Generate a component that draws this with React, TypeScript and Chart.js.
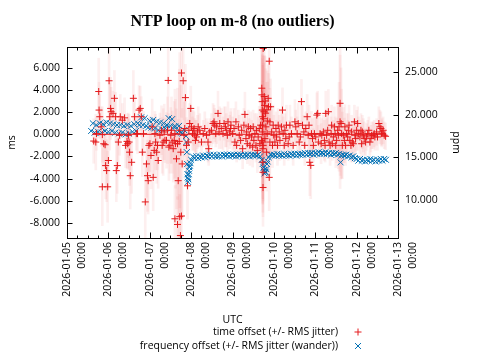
import React, { useEffect, useRef } from 'react';
import { Chart, registerables } from 'chart.js';

Chart.register(...registerables);

// ---------- text ----------
const chartTitle = 'NTP loop on m-8 (no outliers)';
const xAxisTitle = 'UTC';
const leftAxisTitle = 'ms';
const rightAxisTitle = 'ppm';
const dayLabels = ['2026-01-05', '2026-01-06', '2026-01-07', '2026-01-08', '2026-01-09', '2026-01-10', '2026-01-11', '2026-01-12', '2026-01-13'];
const midnightLabel = '00:00';
const timeOffsetLabel = 'time offset (+/- RMS jitter)';
const freqOffsetLabel = 'frequency offset (+/- RMS jitter (wander))';

// ---------- axes (hours since 2026-01-05 00:00 UTC) ----------
const hourRange = [0, 192];
const msRange = [-9.34, 7.86];
const ppmRange = [5.48, 28.0];

// ---------- time offset: [hour, offset ms, RMS jitter ms] ----------
const timeOffsetDay0: number[][] = [
  [15.5, -0.61, 2.0], [16.7, -0.70, 2.5], [17.1, 0.06, 1.5], [18.4, 3.85, 3.0], [18.6, 2.18, 2.5], [19.0, 1.58, 2.0],
  [19.8, 0.67, 1.8], [20.5, -0.03, 2.5], [20.5, -4.73, 3.5], [21.3, -0.85, 2.0], [22.1, -0.94, 2.2], [22.4, -2.82, 3.0],
  [23.0, -3.27, 2.8], [23.6, -4.73, 3.2],
];
const timeOffsetDay1: number[][] = [
  [24.0, -2.36, 2.5], [24.4, 4.82, 3.5], [24.8, 1.58, 3.0], [25.3, 2.33, 2.8], [25.6, 2.03, 2.2], [26.7, 1.88, 2.0],
  [27.5, 3.24, 2.5], [28.2, 1.58, 2.2], [28.6, -3.27, 2.8], [29.2, -2.82, 2.5], [29.8, -0.70, 2.0], [30.5, -0.09, 1.8],
  [30.9, 1.58, 2.0], [32.1, 1.27, 1.5], [33.4, 1.48, 1.8], [34.0, -1.0, 2.0], [34.8, -0.64, 2.5], [35.2, -0.85, 2.2],
  [35.6, -0.09, 2.0], [36.0, -0.70, 2.5], [36.3, -1.61, 3.0], [36.7, -3.73, 3.0], [37.5, -2.52, 2.8], [38.5, 3.24, 2.5],
  [39.2, 1.58, 2.0], [40.2, 0.06, 1.5], [40.9, 0.06, 1.8], [41.8, 2.18, 2.2], [42.5, 2.33, 2.0], [43.1, 1.58, 1.8],
  [43.7, -1.61, 2.2], [44.4, 0.06, 2.0], [45.4, -6.09, 3.5], [46.1, -2.67, 3.0], [46.7, -3.73, 3.2], [47.1, -4.18, 3.0],
  [47.5, -1.0, 2.5],
];
const timeOffsetDay2: number[][] = [
  [48.1, -0.85, 2.5], [48.7, -1.91, 3.0], [49.4, 0.67, 2.5], [50.0, -3.88, 3.0], [50.6, -1.45, 2.5], [51.0, 0.06, 2.0],
  [51.4, -0.70, 2.5], [52.0, -1.61, 2.8], [52.5, -1.0, 2.2], [52.9, -2.36, 2.5], [53.9, -0.09, 2.0], [54.8, 0.36, 2.2],
  [55.2, -1.0, 2.5], [55.8, -0.70, 3.0], [56.4, 0.21, 2.5], [56.8, -0.55, 2.0], [57.7, -0.55, 2.5], [58.3, 0.36, 3.0],
  [58.7, 4.85, 3.5], [59.1, -1.15, 3.0], [59.7, -1.0, 2.5], [60.2, -0.09, 2.5], [60.6, 0.36, 3.0], [61.0, -0.70, 2.8],
  [61.6, -1.30, 3.0], [62.2, -0.55, 3.5], [62.6, 0.06, 4.0], [62.6, -7.61, 3.0], [62.9, -0.85, 4.0], [63.5, -2.21, 4.5],
  [64.1, -0.85, 5.0], [64.1, -8.12, 2.5], [64.5, -4.18, 5.5], [65.1, -0.64, 6.5], [65.4, -7.42, 2.0], [65.4, 0.36, 7.0],
  [65.8, -9.12, 2.0], [66.0, -1.61, 6.0], [66.4, 5.52, 4.0], [66.4, -7.36, 3.0], [66.8, -2.67, 5.0], [67.4, 4.82, 3.5],
  [67.9, -0.09, 3.0], [68.3, 0.52, 2.5], [68.7, 3.30, 3.0], [69.3, -1.0, 2.5], [69.9, -4.64, 3.0], [70.3, -0.70, 2.0],
  [70.7, 0.36, 2.0], [71.2, 0.97, 1.8], [71.8, 2.33, 2.0],
];
const timeOffsetDay3: number[][] = [
  [72.2, 0.67, 1.5], [72.8, 0.06, 1.5], [73.2, 0.36, 1.8], [73.7, 0.52, 1.5], [74.1, -0.09, 1.5], [74.5, -0.55, 1.8],
  [75.1, -0.24, 1.5], [75.7, 0.21, 1.5], [76.1, 0.67, 1.8], [77.0, 0.36, 1.5], [78.0, -0.70, 1.5], [79.0, 0.06, 1.2],
  [79.9, 0.52, 1.5], [80.9, -0.09, 1.5], [81.8, -0.70, 1.8], [82.2, -1.30, 1.5], [82.8, 0.21, 1.2], [83.8, 0.36, 1.5],
  [84.7, 0.97, 1.8], [85.3, 1.12, 1.5], [85.7, 0.82, 1.5], [86.3, 0.06, 1.2], [86.8, 0.67, 1.5], [87.6, 1.88, 2.0],
  [88.2, 0.21, 1.5], [88.6, 0.97, 1.5], [89.5, 0.52, 1.8], [90.5, 0.06, 1.5], [91.1, 0.97, 1.5], [91.9, 0.67, 1.8],
  [92.4, 0.36, 1.5], [93.0, -0.09, 1.5], [93.4, 1.12, 1.8], [94.4, 0.21, 1.5], [94.9, 0.52, 1.5], [95.1, 0.82, 1.5],
];
const timeOffsetDay4: number[][] = [
  [96.1, 0.06, 1.5], [96.9, 0.52, 1.8], [97.4, -0.70, 1.5], [98.0, 1.12, 1.8], [98.4, -1.0, 1.5], [99.4, 0.67, 1.5],
  [99.9, -0.09, 1.8], [100.7, -0.55, 1.5], [101.3, 0.36, 1.5], [101.9, -1.30, 1.8], [102.6, 0.82, 1.5], [103.2, 1.79, 2.0],
  [103.8, -0.39, 1.5], [104.2, 0.21, 1.5], [104.6, -0.85, 1.8], [105.2, 0.67, 1.5], [105.7, -0.09, 1.5], [106.1, -1.0, 1.8],
  [106.5, 0.52, 1.5], [107.1, -0.24, 1.5], [107.7, -1.15, 1.8], [108.0, 0.67, 1.5], [108.4, -0.55, 1.5], [109.0, 0.06, 1.8],
  [109.6, -1.0, 1.5], [110.0, 0.36, 1.5], [110.4, -1.45, 2.0], [110.9, -0.24, 1.8], [111.5, 0.52, 2.0], [111.9, -0.85, 2.2],
  [112.3, 0.82, 2.5], [112.9, -0.55, 3.0], [113.0, 4.15, 4.0], [113.1, 3.55, 4.5], [113.2, 2.94, 5.0], [113.3, 2.18, 5.0],
  [113.4, 1.58, 5.5], [113.4, 0.82, 6.0], [113.5, 0.21, 6.0], [113.5, -0.70, 5.5], [113.6, -1.30, 5.0], [113.6, -2.52, 4.5],
  [113.7, -3.42, 4.0], [113.7, -4.79, 3.5], [113.8, 7.73, 3.0], [113.8, -1.0, 5.0], [114.0, 1.4, 5.0], [114.2, 2.03, 5.0],
  [114.4, 3.4, 4.5], [114.6, 2.6, 4.5], [114.8, -0.39, 4.5], [115.0, 3.0, 4.0], [115.2, 1.9, 4.0], [115.4, 0.67, 4.0],
  [115.8, -1.61, 3.5], [116.0, 2.2, 3.5], [116.1, 0.06, 3.5], [116.4, 1.2, 3.5], [116.7, 3.24, 3.0], [116.9, 2.48, 3.0],
  [117.3, 6.58, 2.5], [117.3, -3.88, 3.0], [117.7, 1.12, 3.0], [117.7, -0.70, 3.0], [118.1, 2.48, 2.5], [118.7, 0.21, 2.0],
  [119.2, -1.0, 2.0], [119.6, 0.82, 1.8],
];
const timeOffsetDay5: number[][] = [
  [120.0, -0.09, 1.8], [120.6, -0.70, 1.5], [121.2, 0.52, 1.5], [121.5, -0.24, 1.5], [122.1, -1.0, 1.8], [122.5, 0.82, 1.5],
  [123.1, 0.21, 1.5], [123.5, -0.55, 1.8], [124.4, 0.67, 1.5], [125.0, 2.18, 2.0], [125.4, 0.06, 1.5], [126.0, -1.0, 1.8],
  [126.4, 0.36, 1.5], [126.9, -0.39, 1.5], [127.3, 0.82, 1.8], [128.3, -0.85, 1.5], [128.9, -0.24, 1.5], [129.3, 0.82, 1.8],
  [130.2, 0.06, 1.5], [131.2, -1.0, 1.8], [132.2, 1.12, 2.0], [132.7, 0.67, 1.5], [133.5, 0.06, 1.5], [134.1, 0.97, 1.8],
  [134.7, -0.70, 1.5], [135.4, -0.24, 1.5], [136.0, 2.94, 2.0], [136.6, 0.82, 1.8], [137.4, 0.21, 1.5], [137.9, -1.0, 1.8],
  [138.5, 0.52, 1.5], [139.3, 1.58, 2.0], [139.9, -0.09, 1.5], [140.4, 0.82, 1.8], [140.8, -2.52, 3.0], [141.4, -2.8, 3.0],
  [141.8, 0.06, 2.0], [142.4, -0.39, 1.8], [142.9, -1.0, 1.5], [143.5, 0.06, 1.5],
];
const timeOffsetDay6: number[][] = [
  [144.3, -0.24, 1.8], [144.9, 1.73, 2.0], [145.4, 1.88, 2.0], [145.8, -0.70, 1.5], [146.8, 0.06, 1.5], [147.4, -0.85, 1.8],
  [147.8, -0.09, 1.5], [148.7, 0.21, 1.5], [149.3, -0.55, 1.8], [149.7, -1.0, 1.5], [150.1, 1.88, 2.0], [150.6, -0.09, 1.5],
  [151.2, 0.36, 1.5], [151.6, 2.03, 2.0], [152.0, -0.70, 1.5], [152.6, -1.0, 1.8], [153.2, 0.06, 1.5], [153.5, 0.82, 1.8],
  [153.9, -0.85, 1.5], [154.5, -0.24, 1.5], [155.1, 0.67, 1.8], [155.5, 0.06, 1.5], [155.9, -1.0, 2.0], [156.4, -0.55, 2.0],
  [157.0, 0.36, 2.5], [157.4, -0.09, 3.0], [157.8, 0.67, 4.0], [158.4, 2.79, 6.5], [158.4, 1.12, 6.0], [159.0, 0.97, 5.0],
  [159.3, 0.06, 4.0], [159.7, -1.0, 3.0], [160.3, -0.09, 2.5], [160.9, -0.55, 2.0], [161.2, 0.67, 2.0], [161.6, -1.0, 1.8],
  [162.2, 0.06, 1.8], [162.8, -0.24, 1.5], [163.2, 0.36, 1.5], [163.6, 0.82, 1.8], [164.1, -0.55, 1.5], [164.7, -1.0, 1.5],
  [165.1, 0.21, 1.5], [165.5, -0.70, 1.8], [166.1, -0.85, 1.5], [166.7, 1.12, 1.5], [167.0, -0.09, 1.5], [167.4, -0.39, 1.5],
];
const timeOffsetDay7: number[][] = [
  [168.0, 0.36, 1.8], [168.6, 0.97, 1.5], [169.0, 0.06, 1.5], [169.9, -0.24, 1.5], [170.5, 0.36, 1.5], [170.9, -0.85, 1.5],
  [171.3, 0.21, 1.5], [171.9, -0.09, 1.5], [172.4, -0.39, 1.5], [173.2, -0.70, 1.2], [173.8, -0.24, 1.2], [174.4, 0.06, 1.2],
  [175.1, 0.36, 1.2], [175.7, -0.70, 1.2], [176.3, -0.39, 1.2], [176.7, -0.09, 1.2], [177.6, -0.09, 1.2], [178.2, 0.06, 1.2],
  [178.6, -0.24, 1.2], [179.6, 0.21, 1.2], [180.1, -0.24, 1.2], [180.9, 0.97, 1.5], [181.5, 0.67, 1.5], [182.1, 0.52, 1.5],
  [182.5, 0.06, 1.2], [182.8, 0.21, 1.2], [183.4, 0.36, 1.2], [184.0, -0.09, 1.2], [184.8, -0.18, 1.2],
];
// offset reference line (ms) over the data span
const offsetBaseline: number[][] = [[14.7, 0], [185.2, 0]];

// ---------- frequency offset (ppm), hourly samples; first hour of each block ----------
const freqDay0Start = 14;
const freqDay0 = [18.1, 19.0, 17.9, 18.8, 18.0, 19.0, 17.9, 18.9, 18.1, 19.1];
const freqDay1Start = 24;
const freqDay1 = [18.0, 19.0, 18.1, 18.9, 17.9, 18.8, 17.8, 18.8, 17.9, 18.7, 17.7, 18.8, 17.8, 18.7, 18.0, 18.9, 18.1, 19.0, 18.8, 19.7, 18.8, 19.6, 18.7, 18.5];
const freqDay2Start = 48;
const freqDay2 = [19.3, 18.5, 19.4, 18.4, 19.2, 18.2, 19.1, 18.3, 19.0, 18.4, 18.8, 19.6, 18.7, 19.5, 18.6, 18.6, 17.9, 18.7, 17.9, 17.8, 18.2, 17.5, 12.6, 13.8];
const freqDay3Start = 72;
const freqDay3 = [14.7, 15.1, 14.9, 15.1, 14.9, 15.1, 15.0, 15.2, 15.0, 15.2, 15.1, 15.3, 15.1, 15.3, 15.1, 15.2, 15.1, 15.3, 15.1, 15.3, 15.2, 15.3, 15.1, 15.3];
const freqDay4Start = 96;
const freqDay4 = [15.2, 15.3, 15.1, 15.3, 15.2, 15.3, 15.1, 15.3, 15.2, 15.3, 15.1, 15.3, 15.2, 15.3, 15.2, 15.3, 15.1, 14.7, 13.8, 13.3, 14.2, 15.0, 15.3, 15.2];
const freqDay5Start = 120;
const freqDay5 = [15.3, 15.2, 15.4, 15.2, 15.3, 15.2, 15.4, 15.2, 15.3, 15.2, 15.4, 15.3, 15.4, 15.2, 15.4, 15.3, 15.4, 15.3, 15.5, 15.3, 15.5, 15.4, 15.5, 15.3];
const freqDay6Start = 144;
const freqDay6 = [15.5, 15.4, 15.6, 15.4, 15.5, 15.4, 15.6, 15.4, 15.5, 15.3, 15.5, 15.4, 15.5, 15.3, 15.4, 15.2, 15.3, 15.2, 15.3, 15.1, 15.2, 15.0, 15.1, 14.9];
const freqDay7Start = 168;
const freqDay7 = [14.8, 14.6, 14.8, 14.6, 14.7, 14.5, 14.7, 14.6, 14.8, 14.6, 14.7, 14.5, 14.7, 14.6, 14.8, 14.6, 14.8, 14.7];
// extra samples inside the two frequency dips: [hour, ppm]
const freqDipSamples: number[][] = [
  [69.3, 16.8], [69.5, 15.6], [69.7, 14.2], [69.9, 13.0], [70.2, 12.1], [70.4, 12.4], [70.6, 13.0], [70.8, 13.4],
  [71.3, 14.0], [71.6, 14.3], [113.5, 14.2], [114.3, 13.5], [114.6, 13.1], [115.3, 13.2], [115.6, 13.6], [116.4, 14.5],
  [158.7, 14.4],
];

// ---------- styling ----------
const RED = 'rgb(228,26,28)';
const BLUE = 'rgb(0,112,180)';
const PINK = 'rgba(240,110,110,0.11)';
const SANS = "'Open Sans', 'DejaVu Sans', sans-serif";
const FONT_SIZE = 10.5;

const timeOffsetAll = [
  ...timeOffsetDay0, ...timeOffsetDay1, ...timeOffsetDay2, ...timeOffsetDay3,
  ...timeOffsetDay4, ...timeOffsetDay5, ...timeOffsetDay6, ...timeOffsetDay7,
];
const hourly = (start: number, vals: number[]) => vals.map((v, i) => ({ x: start + i, y: v }));
const freqAll = [
  ...hourly(freqDay0Start, freqDay0), ...hourly(freqDay1Start, freqDay1), ...hourly(freqDay2Start, freqDay2),
  ...hourly(freqDay3Start, freqDay3), ...hourly(freqDay4Start, freqDay4), ...hourly(freqDay5Start, freqDay5),
  ...hourly(freqDay6Start, freqDay6), ...hourly(freqDay7Start, freqDay7),
  ...freqDipSamples.map(([x, y]) => ({ x, y })),
];

function drawMarker(ctx: CanvasRenderingContext2D, style: string, x: number, y: number, r: number) {
  ctx.beginPath();
  if (style === 'cross') {
    ctx.moveTo(x - r, y); ctx.lineTo(x + r, y);
    ctx.moveTo(x, y - r); ctx.lineTo(x, y + r);
  } else {
    const d = r * 0.707;
    ctx.moveTo(x - d, y - d); ctx.lineTo(x + d, y + d);
    ctx.moveTo(x - d, y + d); ctx.lineTo(x + d, y - d);
  }
  ctx.stroke();
}

const framePlugin = {
  id: 'gnuplotFrame',
  afterDatasetsDraw(chart: any) {
    const { ctx, chartArea: a, scales } = chart;
    ctx.save();
    ctx.strokeStyle = '#000';
    ctx.lineWidth = 1;
    const L = Math.round(a.left) + 0.5, R = Math.round(a.right) + 0.5;
    const T = Math.round(a.top) + 0.5, B = Math.round(a.bottom) + 0.5;
    ctx.strokeRect(L, T, R - L, B - T);
    ctx.beginPath();
    const xs = scales.x;
    for (let h = xs.min; h <= xs.max + 1e-6; h += 6) {
      const px = Math.round(xs.getPixelForValue(h)) + 0.5;
      const len = h % 24 === 0 ? 6 : 3;
      ctx.moveTo(px, B); ctx.lineTo(px, B - len);
      ctx.moveTo(px, T); ctx.lineTo(px, T + len);
    }
    scales.y.ticks.forEach((t: any) => {
      const py = Math.round(scales.y.getPixelForValue(t.value)) + 0.5;
      ctx.moveTo(L, py); ctx.lineTo(L + 5, py);
    });
    scales.y2.ticks.forEach((t: any) => {
      const py = Math.round(scales.y2.getPixelForValue(t.value)) + 0.5;
      ctx.moveTo(R, py); ctx.lineTo(R - 5, py);
    });
    ctx.stroke();
    ctx.restore();
  },
};

const keyPlugin = {
  id: 'gnuplotKey',
  afterDraw(chart: any) {
    const { ctx, chartArea: a } = chart;
    const entries = chart.data.datasets.filter((d: any) => d.keyLabel);
    ctx.save();
    ctx.font = `${FONT_SIZE}px ${SANS}`;
    ctx.textAlign = 'right';
    ctx.textBaseline = 'middle';
    entries.forEach((d: any, i: number) => {
      const y = chart.height - 28 + i * 14;
      ctx.fillStyle = '#000';
      ctx.fillText(d.keyLabel, a.right - 60, y);
      ctx.strokeStyle = d.borderColor;
      ctx.lineWidth = 1;
      drawMarker(ctx, d.pointStyle, a.right - 40, y, d.pointStyle === 'cross' ? 3.5 : 4.2);
    });
    ctx.restore();
  },
};

export default function App() {
  const ref = useRef<HTMLCanvasElement>(null);
  useEffect(() => {
    if (!ref.current) return;
    const tickFont = { family: SANS, size: FONT_SIZE };
    const chart = new Chart(ref.current, {
      type: 'scatter',
      data: {
        datasets: [
          {
            type: 'scatter',
            keyLabel: timeOffsetLabel,
            label: timeOffsetLabel,
            data: timeOffsetAll.map(([h, v]) => ({ x: h, y: v })),
            pointStyle: 'cross',
            pointRadius: 3.5,
            borderColor: RED,
            backgroundColor: RED,
            borderWidth: 1,
            yAxisID: 'y',
            order: 1,
          } as any,
          {
            type: 'line',
            label: 'offset reference',
            data: offsetBaseline.map(([h, v]) => ({ x: h, y: v })),
            borderColor: RED,
            borderWidth: 1,
            pointRadius: 0,
            yAxisID: 'y',
            order: 1,
          } as any,
          {
            type: 'scatter',
            keyLabel: freqOffsetLabel,
            label: freqOffsetLabel,
            data: freqAll,
            pointStyle: 'crossRot',
            pointRadius: 4.2,
            borderColor: BLUE,
            backgroundColor: BLUE,
            borderWidth: 1,
            yAxisID: 'y2',
            order: 2,
          } as any,
          {
            type: 'bar',
            label: 'time offset RMS jitter',
            data: timeOffsetAll.map(([h, v, j]) => ({ x: h, y: [v - j, v + j] })),
            backgroundColor: PINK,
            borderWidth: 0,
            barThickness: 2,
            grouped: false,
            yAxisID: 'y',
            order: 3,
          } as any,
        ],
      },
      options: {
        animation: false,
        responsive: false,
        events: [],
        layout: { padding: { left: 0, right: 15, top: 0, bottom: 30 } },
        plugins: {
          legend: { display: false },
          tooltip: { enabled: false },
          title: {
            display: true,
            text: chartTitle,
            color: '#000',
            font: { family: "'Liberation Serif', 'DejaVu Serif', serif", size: 16, weight: 'bold', lineHeight: 1.2 },
            padding: { top: 12, bottom: 15.8 },
          },
        },
        scales: {
          x: {
            type: 'linear',
            position: 'bottom',
            min: hourRange[0],
            max: hourRange[1],
            offset: false,
            grid: { display: false, drawTicks: false, offset: false },
            border: { display: false },
            ticks: {
              stepSize: 24,
              autoSkip: false,
              minRotation: 90,
              maxRotation: 90,
              padding: 4,
              color: '#000',
              font: { ...tickFont, lineHeight: 1.43 },
              callback: (v: any) => [dayLabels[Math.round(Number(v) / 24)], midnightLabel],
            },
            title: { display: true, text: xAxisTitle, color: '#000', font: tickFont, padding: { top: 0, bottom: 4 } },
            afterFit: (s: any) => { s.height = 92; },
          },
          y: {
            type: 'linear',
            position: 'left',
            min: msRange[0],
            max: msRange[1],
            grid: { display: false, drawTicks: false },
            border: { display: false },
            ticks: { stepSize: 2, includeBounds: false, padding: 7, color: '#000', font: tickFont, callback: (v: any) => Number(v).toFixed(3) },
            title: { display: true, text: leftAxisTitle, color: '#000', font: tickFont, padding: { top: 6, bottom: 0 } },
            afterFit: (s: any) => { s.width = 67; },
          },
          y2: {
            type: 'linear',
            position: 'right',
            min: ppmRange[0],
            max: ppmRange[1],
            grid: { display: false, drawTicks: false },
            border: { display: false },
            ticks: { stepSize: 5, includeBounds: false, padding: 7, color: '#000', font: tickFont, callback: (v: any) => Number(v).toFixed(3) },
            title: { display: true, text: rightAxisTitle, color: '#000', font: tickFont, padding: { top: 3, bottom: 0 } },
            afterFit: (s: any) => { s.width = 67; },
          },
        },
      } as any,
      plugins: [framePlugin, keyPlugin],
    });
    return () => chart.destroy();
  }, []);
  return (
    <div style={{ position: 'absolute', left: 0, top: 0, width: 480, height: 360, background: '#fff' }}>
      <canvas ref={ref} width={480} height={360} style={{ display: 'block', width: 480, height: 360 }} />
    </div>
  );
}
